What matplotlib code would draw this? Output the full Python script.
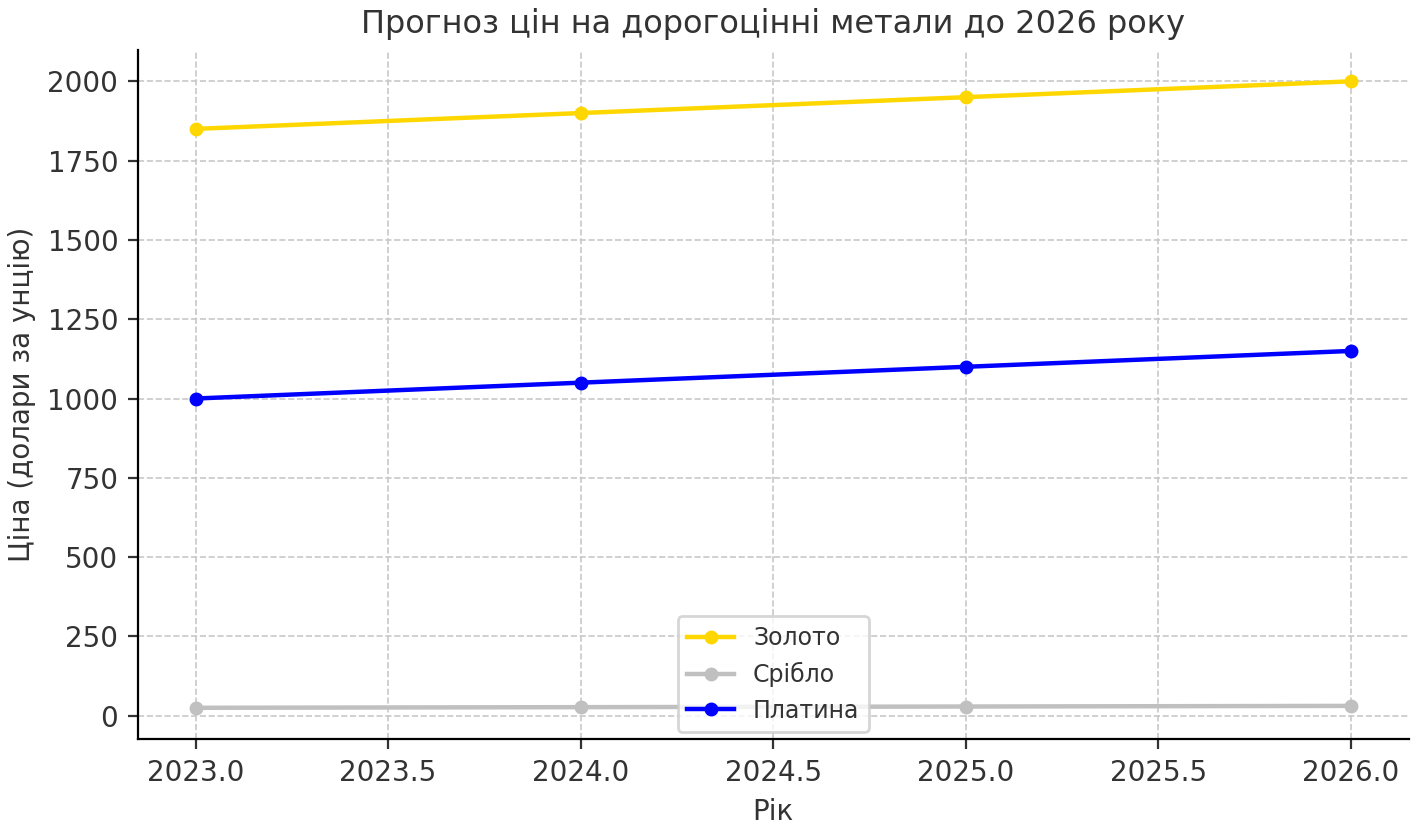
import matplotlib
matplotlib.use("Agg")
import matplotlib.pyplot as plt

years = [2023, 2024, 2025, 2026]
gold = [1850, 1900, 1950, 2000]
silver = [25, 27, 29, 31]
platinum = [1000, 1050, 1100, 1150]

plt.rcParams['font.family'] = ['DejaVu Sans']
fig, ax = plt.subplots(figsize=(7.085, 4.17), dpi=200)
ax.plot(years, gold, marker='o', color='gold', linewidth=1.6, markersize=4, label='Золото')
ax.plot(years, silver, marker='o', color='silver', linewidth=1.6, markersize=4, label='Срібло')
ax.plot(years, platinum, marker='o', color='blue', linewidth=1.6, markersize=4, label='Платина')
ax.set_title('Прогноз цін на дорогоцінні метали до 2026 року', fontsize=11.5, color='#333333')
ax.set_xlabel('Рік', fontsize=10, color='#333333')
ax.set_ylabel('Ціна (долари за унцію)', fontsize=10, color='#333333')
ax.tick_params(labelsize=10, colors='#333333')
ax.grid(True, linestyle='--', color='#c8c8c8', linewidth=0.6)
ax.spines['top'].set_visible(False)
ax.spines['right'].set_visible(False)
leg = ax.legend(loc='lower center', fontsize=8.5, borderaxespad=0.3)
for t in leg.get_texts():
    t.set_color('#333333')
fig.tight_layout(pad=0.3)
fig.savefig('out.png', dpi=200)
